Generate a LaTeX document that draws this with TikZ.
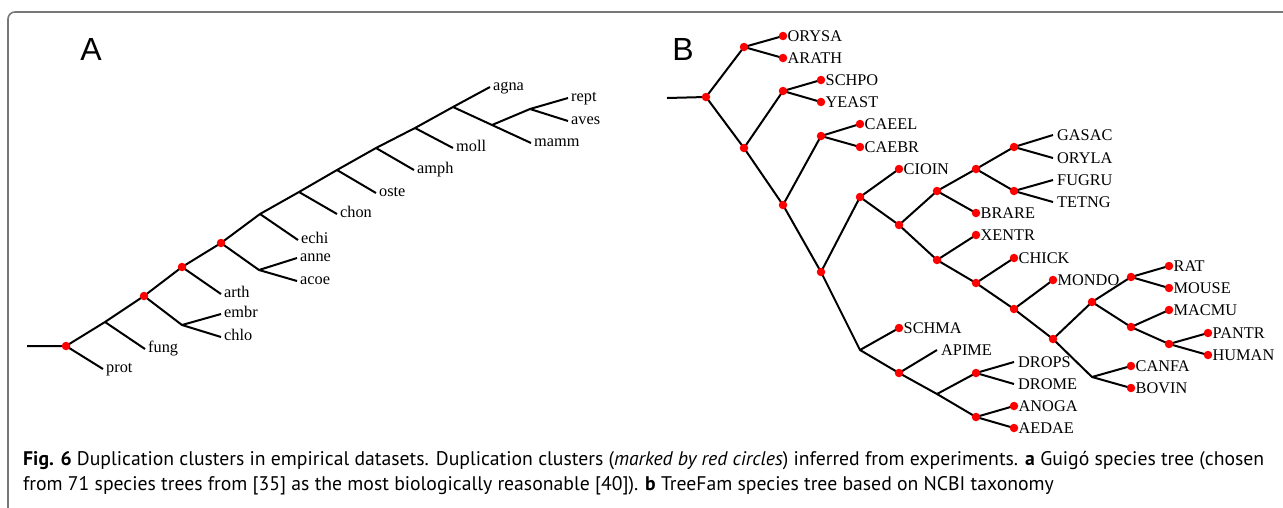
\documentclass[tikz,border=0pt]{standalone}
\usepackage{fontspec}
\setmainfont{Liberation Serif}
\newfontfamily\capfont{PT Sans}
\newfontfamily\panelfont{Liberation Sans}
\begin{document}
\begin{tikzpicture}[x=1pt,y=-1pt,
  br/.style={line width=2pt, line join=round},
  dot/.style={circle, fill=red, draw=none, inner sep=0pt, minimum size=8.5pt},
  laba/.style={anchor=base west, inner sep=0pt, xshift=3pt, yshift=-3.8pt, font=\fontsize{16.3}{19}\selectfont},
  labb/.style={anchor=base west, inner sep=0pt, xshift=4.5pt, yshift=-5.4pt, font=\fontsize{16.3}{19}\selectfont},
  labn/.style={anchor=base west, inner sep=0pt, xshift=4pt, yshift=-5.4pt, font=\fontsize{16.3}{19}\selectfont},
  capl/.style={anchor=base west, inner sep=0pt, font=\capfont\fontsize{19.7}{22}\selectfont},
  panel/.style={anchor=base, inner sep=0pt, font=\panelfont\fontsize{32}{36}\selectfont}]
\useasboundingbox (0,0) rectangle (1283,507);
% frame
\draw[line width=1.6pt, color={rgb,255:red,120;green,120;blue,120}, rounded corners=7pt] (1284,12) -- (8,12) -- (8,508);
% panel labels
\node[panel] (pA) at (91,60) {A};
\node[panel] (pB) at (683,60) {B};

% ---------- Tree A ----------
\coordinate (a0) at (27,346);
\coordinate (a1) at (66,346);
\coordinate (prot) at (103,369);
\coordinate (a2) at (105,322);
\coordinate (fung) at (145,349);
\coordinate (a3) at (144,296);
\coordinate (a3b) at (182,325);
\coordinate (embr) at (221,314);
\coordinate (chlo) at (221,337);
\coordinate (a4) at (182,267);
\coordinate (arth) at (221,294);
\coordinate (a5) at (221,243);
\coordinate (a5b) at (259,270);
\coordinate (anne) at (297,258);
\coordinate (acoe) at (297,281);
\coordinate (a6) at (260,214);
\coordinate (echi) at (298,240);
\coordinate (a7) at (299,192);
\coordinate (chon) at (337,214);
\coordinate (a8) at (337,170);
\coordinate (oste) at (376,193);
\coordinate (a9) at (376,148);
\coordinate (amph) at (414,170);
\coordinate (a10) at (415,128);
\coordinate (moll) at (453,148);
\coordinate (a11) at (453,107);
\coordinate (agna) at (490,87);
\coordinate (a12) at (492,125);
\coordinate (mamm) at (531,143);
\coordinate (a13) at (530,109);
\coordinate (rept) at (568,98);
\coordinate (aves) at (568,121);

\draw[br] (a0) -- (a1) -- (a2) -- (a3) -- (a4) -- (a5) -- (a6) -- (a7) -- (a8) -- (a9) -- (a10) -- (a11) -- (agna);
\draw[br] (a1) -- (prot);
\draw[br] (a2) -- (fung);
\draw[br] (a3) -- (a3b) -- (embr);
\draw[br] (a3b) -- (chlo);
\draw[br] (a4) -- (arth);
\draw[br] (a5) -- (a5b) -- (anne);
\draw[br] (a5b) -- (acoe);
\draw[br] (a6) -- (echi);
\draw[br] (a7) -- (chon);
\draw[br] (a8) -- (oste);
\draw[br] (a9) -- (amph);
\draw[br] (a10) -- (moll);
\draw[br] (a11) -- (a12) -- (mamm);
\draw[br] (a12) -- (a13) -- (rept);
\draw[br] (a13) -- (aves);

\foreach \n in {a1,a3,a4,a5} \node[dot] (d\n) at (\n) {};
\foreach \n in {prot,fung,embr,chlo,arth,anne,acoe,echi,chon,oste,amph,moll,agna,mamm,rept,aves}
  \node[laba] (L\n) at (\n) {\n};

% ---------- Tree B ----------
\coordinate (b0) at (667,98);
\coordinate (b1) at (706,97);
\coordinate (b2) at (744,47);
\coordinate (ORYSA) at (783,36);
\coordinate (ARATH) at (783,58);
\coordinate (b3) at (744,148);
\coordinate (b4) at (783,91);
\coordinate (SCHPO) at (821,80);
\coordinate (YEAST) at (821,102);
\coordinate (b5) at (783,205);
\coordinate (b6) at (821,136);
\coordinate (CAEEL) at (860,124);
\coordinate (CAEBR) at (860,147);
\coordinate (b7) at (821,272);
\coordinate (b8) at (860,197);
\coordinate (CIOIN) at (899,169);
\coordinate (b9) at (899,225);
\coordinate (b10) at (937,191);
\coordinate (b11) at (976,169);
\coordinate (BRARE) at (976,213);
\coordinate (b12) at (1014,147);
\coordinate (GASAC) at (1053,135);
\coordinate (ORYLA) at (1053,158);
\coordinate (b13) at (1014,191);
\coordinate (FUGRU) at (1053,180);
\coordinate (TETNG) at (1053,202);
\coordinate (b14) at (937,260);
\coordinate (XENTR) at (976,235);
\coordinate (b15) at (976,283);
\coordinate (CHICK) at (1014,258);
\coordinate (b16) at (1014,309);
\coordinate (MONDO) at (1053,280);
\coordinate (b17) at (1053,339);
\coordinate (b18) at (1092,302);
\coordinate (b19) at (1092,377);
\coordinate (b20) at (1131,277);
\coordinate (RAT) at (1169,266);
\coordinate (MOUSE) at (1169,288);
\coordinate (b21) at (1131,327);
\coordinate (MACMU) at (1169,310);
\coordinate (b22) at (1169,344);
\coordinate (PANTR) at (1208,333);
\coordinate (HUMAN) at (1208,355);
\coordinate (CANFA) at (1131,366);
\coordinate (BOVIN) at (1131,388);
\coordinate (b23) at (860,350);
\coordinate (SCHMA) at (899,328);
\coordinate (b24) at (899,373);
\coordinate (APIME) at (937,350);
\coordinate (b25) at (937,394);
\coordinate (b26) at (976,373);
\coordinate (DROPS) at (1014,362);
\coordinate (DROME) at (1014,384);
\coordinate (b27) at (976,417);
\coordinate (ANOGA) at (1014,406);
\coordinate (AEDAE) at (1014,428);

\draw[br] (b0) -- (b1);
\draw[br] (b2) -- (b1) -- (b3);
\draw[br] (ORYSA) -- (b2) -- (ARATH);
\draw[br] (b4) -- (b3) -- (b5);
\draw[br] (SCHPO) -- (b4) -- (YEAST);
\draw[br] (b6) -- (b5) -- (b7);
\draw[br] (CAEEL) -- (b6) -- (CAEBR);
\draw[br] (b8) -- (b7) -- (b23);
\draw[br] (CIOIN) -- (b8) -- (b9);
\draw[br] (b10) -- (b9) -- (b14);
\draw[br] (b11) -- (b10) -- (BRARE);
\draw[br] (b12) -- (b11) -- (b13);
\draw[br] (GASAC) -- (b12) -- (ORYLA);
\draw[br] (FUGRU) -- (b13) -- (TETNG);
\draw[br] (XENTR) -- (b14) -- (b15);
\draw[br] (CHICK) -- (b15) -- (b16);
\draw[br] (MONDO) -- (b16) -- (b17);
\draw[br] (b18) -- (b17) -- (b19);
\draw[br] (b20) -- (b18) -- (b21);
\draw[br] (RAT) -- (b20) -- (MOUSE);
\draw[br] (MACMU) -- (b21) -- (b22);
\draw[br] (PANTR) -- (b22) -- (HUMAN);
\draw[br] (CANFA) -- (b19) -- (BOVIN);
\draw[br] (SCHMA) -- (b23) -- (b24);
\draw[br] (APIME) -- (b24) -- (b25);
\draw[br] (b26) -- (b25) -- (b27);
\draw[br] (DROPS) -- (b26) -- (DROME);
\draw[br] (ANOGA) -- (b27) -- (AEDAE);

\foreach \n in {b1,b2,b3,b4,b5,b6,b7,b8,b9,b10,b11,b12,b13,b14,b15,b16,b17,b18,b20,b21,b22,b24,b26,b27,
  ORYSA,ARATH,SCHPO,YEAST,CAEEL,CAEBR,CIOIN,BRARE,XENTR,CHICK,MONDO,RAT,MOUSE,MACMU,PANTR,HUMAN,CANFA,BOVIN,SCHMA,ANOGA,AEDAE}
  \node[dot] (d\n) at (\n) {};
\foreach \n in {ORYSA,ARATH,SCHPO,YEAST,CAEEL,CAEBR,CIOIN,BRARE,XENTR,CHICK,MONDO,RAT,MOUSE,MACMU,PANTR,HUMAN,CANFA,BOVIN,SCHMA,ANOGA,AEDAE}
  \node[labb] (L\n) at (\n) {\n};
\foreach \n in {GASAC,ORYLA,FUGRU,TETNG,APIME,DROPS,DROME}
  \node[labn] (L\n) at (\n) {\n};

% ---------- Caption ----------
\node[capl] (cap1) at (23,465) {\textbf{Fig. 6} Duplication clusters in empirical datasets. Duplication clusters (\textit{marked by red circles}) inferred from experiments. \textbf{a} Guig\'o species tree (chosen};
\node[capl] (cap2) at (23,490) {from 71 species trees from [35] as the most biologically reasonable [40]). \textbf{b} TreeFam species tree based on NCBI taxonomy};
\end{tikzpicture}
\end{document}
